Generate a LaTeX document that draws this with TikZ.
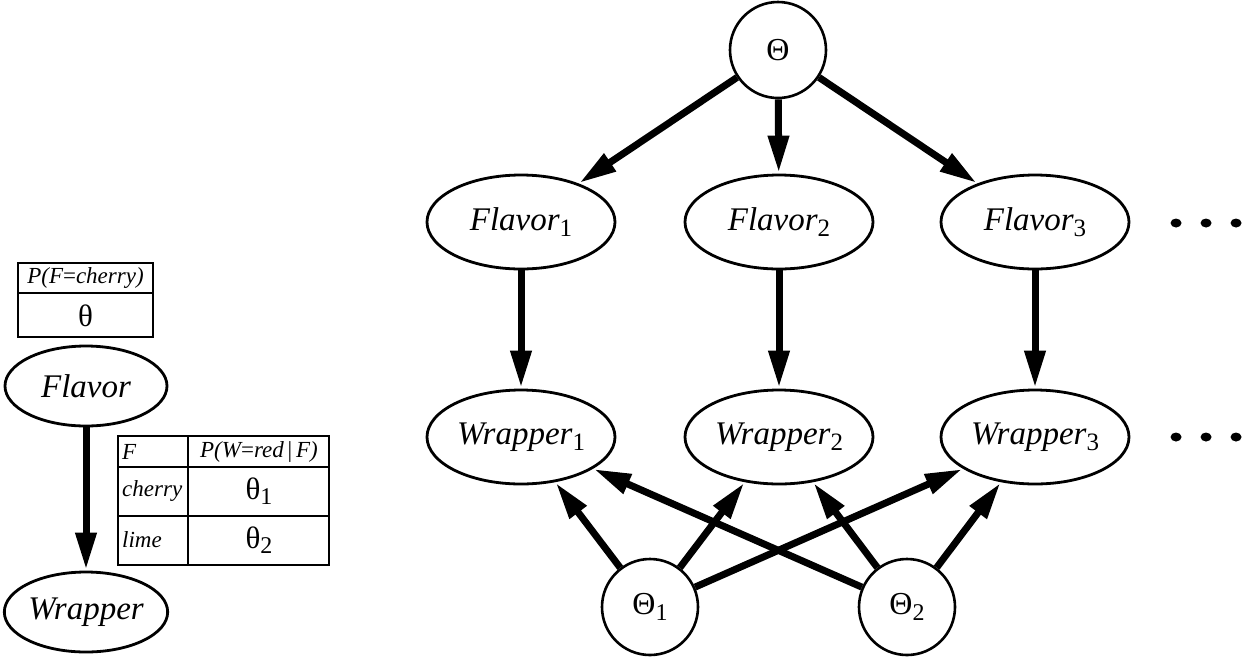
\documentclass[tikz,border=0pt]{standalone}
\usepackage{fontspec}
\setmainfont{Liberation Serif}
\usetikzlibrary{arrows.meta,shapes.geometric}

% lowered upright index used after variable names
\newcommand\vidx[1]{\raisebox{-0.4ex}{\fontsize{25}{25}\selectfont\upshape #1}}
\newcommand\pidx[1]{\raisebox{-0.4ex}{\fontsize{24}{24}\selectfont\upshape #1}}

\begin{document}
\begin{tikzpicture}[x=1pt,y=-1pt,
  var/.style={ellipse, draw, line width=2.8pt, minimum width=188pt, minimum height=94pt,
    inner sep=0pt, font=\fontsize{33}{33}\selectfont\itshape},
  smallvar/.style={var, minimum width=162pt, minimum height=80pt},
  param/.style={circle, draw, line width=2.6pt, minimum size=96pt, inner sep=0pt,
    font=\fontsize{32}{32}\selectfont},
  link/.style={line width=7pt, shorten >=1pt, -{Triangle[length=37pt,width=20pt]}},
  cpt/.style={line width=1.5pt},
  cpttext/.style={inner sep=0pt, font=\fontsize{23}{23}\selectfont\itshape},
  cptval/.style={inner sep=0pt, font=\fontsize{31}{31}\selectfont},
]
\useasboundingbox (0,0) rectangle (1247,657);

% ---- single-instance network with its tables ----
\node[smallvar] (flv) at (86,386) {Flavor};
\node[smallvar] (wrp) at (86,612) {Wrapper};
\draw[link] (flv) -- (wrp);

\draw[cpt] (18,263) rectangle (153,337);
\draw[cpt] (18,293) -- (153,293);
\node[cpttext] (pf) at (85.5,278) {P(F\upshape{=}\itshape cherry)};
\node[cptval] (th) at (85.5,316) {θ};

\draw[cpt] (118,436) rectangle (329,565);
\draw[cpt] (188,436) -- (188,565);
\draw[cpt] (118,467) -- (329,467);
\draw[cpt] (118,516) -- (329,516);
\node[cpttext, anchor=west] (hf) at (122,452) {F};
\node[cpttext] (hp) at (259,452) {P(W\upshape{=}\itshape red\,\upshape{|}\,\itshape F)};
\node[cpttext, anchor=west] (rc) at (122,491) {cherry};
\node[cptval] (t1) at (259,491) {θ\pidx{1}};
\node[cpttext, anchor=west] (rl) at (122,540) {lime};
\node[cptval] (t2) at (259,540) {θ\pidx{2}};

% ---- unrolled network with shared parameters ----
\node[param] (T) at (778,50) {Θ};
\node[var] (F1) at (521,222) {Flavor\vidx{1}};
\node[var] (F2) at (779,222) {Flavor\vidx{2}};
\node[var] (F3) at (1035,222) {Flavor\vidx{3}};
\node[var] (W1) at (521,437) {Wrapper\vidx{1}};
\node[var] (W2) at (779,437) {Wrapper\vidx{2}};
\node[var] (W3) at (1035,437) {Wrapper\vidx{3}};
\node[param] (T1) at (650,607) {Θ\pidx{1}};
\node[param] (T2) at (907,607) {Θ\pidx{2}};

\foreach \f in {F1,F2,F3} \draw[link] (T) -- (\f);
\draw[link] (F1) -- (W1);
\draw[link] (F2) -- (W2);
\draw[link] (F3) -- (W3);
\foreach \w in {W1,W2,W3} {
  \draw[link] (T1) -- (\w);
  \draw[link] (T2) -- (\w);
}

% continuation dots
\foreach \y in {223,437}
  \foreach \x in {1176,1206,1236}
    \fill (\x,\y) ellipse [x radius=5.5pt, y radius=4.5pt];
\end{tikzpicture}
\end{document}
